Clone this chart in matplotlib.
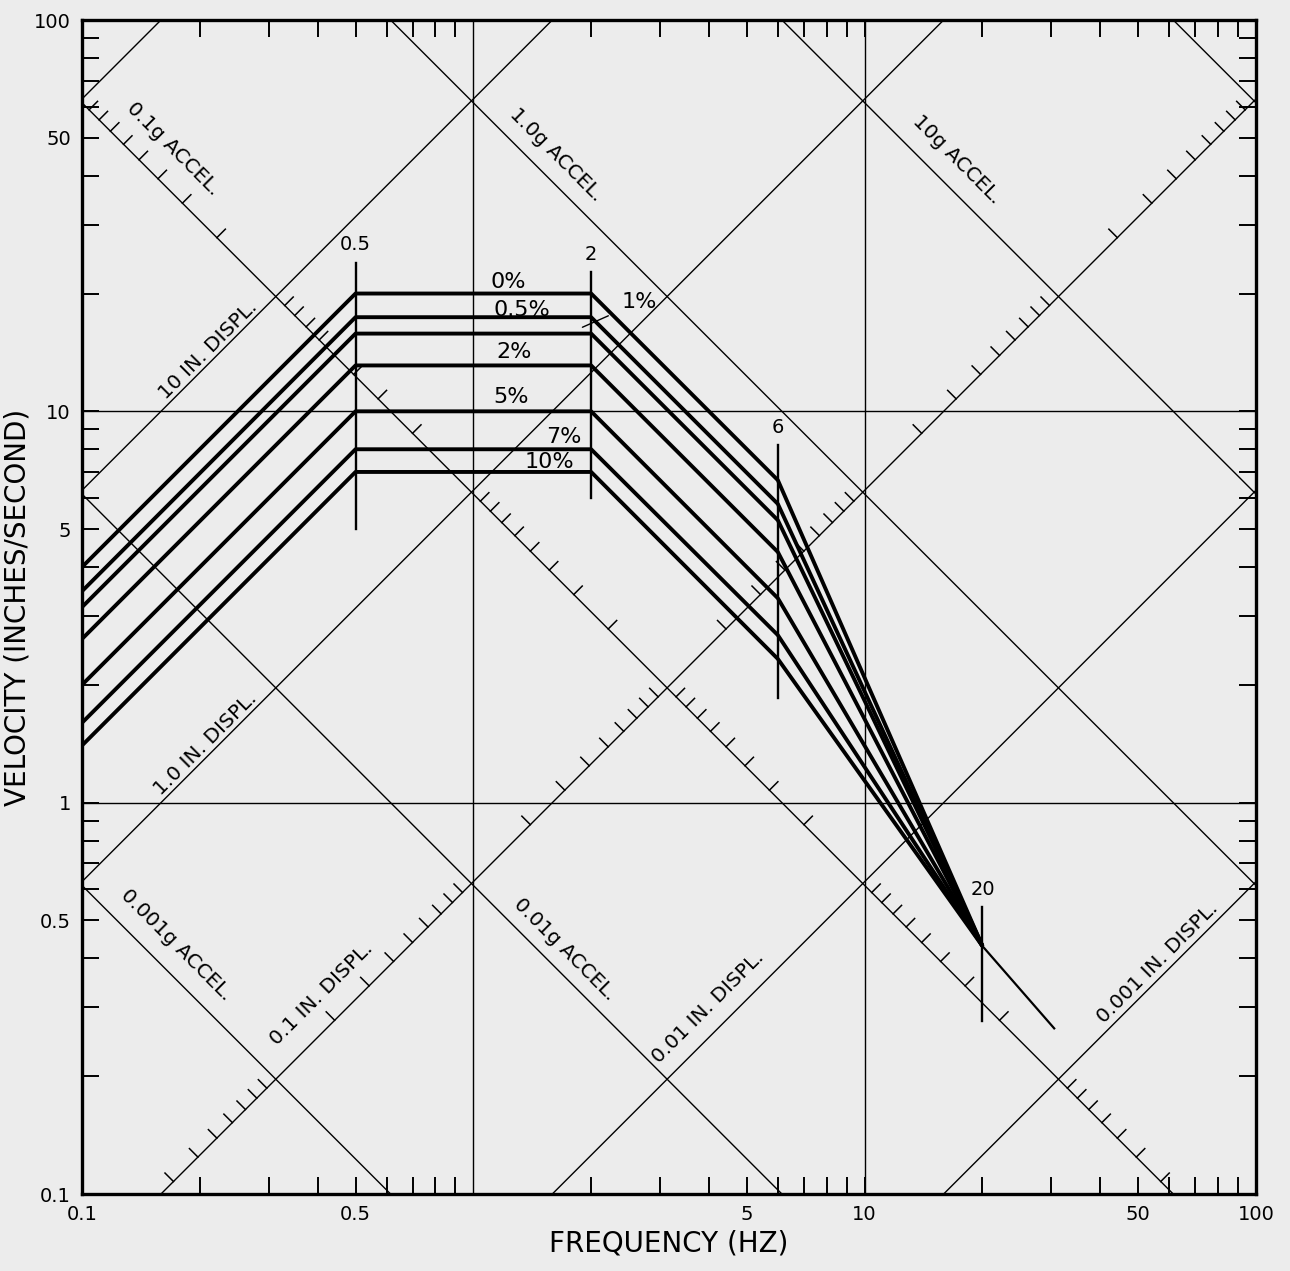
import numpy as np
import matplotlib
matplotlib.use("Agg")
import matplotlib.pyplot as plt
from matplotlib.ticker import FixedLocator, FixedFormatter, NullFormatter

# Tripartite response spectrum (velocity / displacement / acceleration)
G_IN = 386.1  # in/s^2

# spectrum data
damping = ['0%', '0.5%', '1%', '2%', '5%', '7%', '10%']
v_01hz = [4.0, 3.47, 3.16, 2.62, 2.0, 1.6, 1.4]        # at 0.1 Hz
v_plateau = [20.0, 17.4, 15.8, 13.1, 10.0, 8.0, 7.0]   # 0.5 - 2 Hz
v_6hz = [6.67, 5.8, 5.27, 4.37, 3.33, 2.68, 2.33]       # at 6 Hz
v_20hz = 0.43                                         # all meet at 20 Hz
f_corner = [0.1, 0.5, 2.0, 6.0, 20.0]
tail_f = [20.0, 30.5]
tail_v = [0.43, 0.265]

# vertical corner markers
marker_f = [0.5, 2.0, 6.0, 20.0]
marker_lo = [5.0, 6.0, 1.85, 0.277]
marker_hi = [24.0, 22.7, 8.2, 0.54]
marker_txt = ['0.5', '2', '6', '20']

# diagonal grid
accel_g = [0.001, 0.01, 0.1, 1.0, 10.0, 100.0]
displ_in = [0.001, 0.01, 0.1, 1.0, 10.0, 100.0]
tick_accel = 0.1   # line carrying the displacement scale
tick_displ = 0.1   # line carrying the acceleration scale

grid_f = [1, 10]
grid_v = [1, 10]

x_ticks = [0.1, 0.5, 5, 10, 50, 100]
x_labels = ['0.1', '0.5', '5', '10', '50', '100']
y_ticks = [0.1, 0.5, 1, 5, 10, 50, 100]
y_labels = ['0.1', '0.5', '1', '5', '10', '50', '100']

# label placement: (value, text, freq of foot on line, offset px from line)
accel_lab = [(0.1, '0.1g ACCEL.', 0.150, 32), (1.0, '1.0g ACCEL.', 1.49, 22),
             (10.0, '10g ACCEL.', 15.5, 25), (0.001, '0.001g ACCEL.', 0.157, 25),
             (0.01, '0.01g ACCEL.', 1.58, 19)]
displ_lab = [(10.0, '10 IN. DISPL.', 0.219, 10), (1.0, '1.0 IN. DISPL.', 0.216, 10),
             (0.1, '0.1 IN. DISPL.', 0.46, 28), (0.01, '0.01 IN. DISPL.', 4.37, 22),
             (0.001, '0.001 IN. DISPL.', 58.9, 12)]

# damping label centres (freq, velocity)
damp_pos = [(1.23, 21.4), (1.33, 18.2), None, (1.27, 14.2), (1.25, 10.85),
            (1.70, 8.59), (1.56, 7.41)]
one_pct_text = (2.65, 19.0)
one_pct_tip = (1.9, 16.4)

bg = '#ececec'
fig = plt.figure(figsize=(12.9, 12.71), dpi=100, facecolor=bg)
ax = fig.add_axes([82 / 1290, 77 / 1271, 1174 / 1290, 1174 / 1271], facecolor=bg)
ax.set_xscale('log')
ax.set_yscale('log')
ax.set_xlim(0.1, 100)
ax.set_ylim(0.1, 100)

f = np.logspace(-1.2, 2.2, 200)
for a in accel_g:
    ax.plot(f, G_IN * a / (2 * np.pi * f), color='black', lw=1.0)
for d in displ_in:
    ax.plot(f, 2 * np.pi * d * f, color='black', lw=1.0)
for x in grid_f:
    ax.axvline(x, color='black', lw=1.0)
for y in grid_v:
    ax.axhline(y, color='black', lw=1.0)

# scale ticks along the 0.1g and 0.1 in lines
tl = 12 / 392 / np.sqrt(2)  # decades
mult = 10 ** tl
for m in range(-5, 3):
    for k in range(2, 10):
        val = k * 10.0 ** m
        # displacement ticks on the accel line
        c = G_IN * tick_accel / (2 * np.pi)
        ft = np.sqrt(c / (2 * np.pi * val))
        vt = c / ft
        ax.plot([ft, ft * mult], [vt, vt * mult], color='black', lw=1.1)
        # acceleration ticks on the displacement line
        ft = np.sqrt(G_IN * val / (4 * np.pi ** 2 * tick_displ))
        vt = 2 * np.pi * tick_displ * ft
        ax.plot([ft, ft / mult], [vt, vt * mult], color='black', lw=1.1)

# spectrum curves
for i in range(len(damping)):
    vv = [v_01hz[i], v_plateau[i], v_plateau[i], v_6hz[i], v_20hz]
    ax.plot(f_corner, vv, color='black', lw=2.8, solid_capstyle='butt')
ax.plot(tail_f, tail_v, color='black', lw=1.6)

for fm, lo, hi, t in zip(marker_f, marker_lo, marker_hi, marker_txt):
    ax.plot([fm, fm], [lo, hi], color='black', lw=1.7)
    ax.annotate(t, (fm, hi), xytext=(0, 6), textcoords='offset points',
                ha='center', va='bottom', fontsize=14)

for lab, pos in zip(damping, damp_pos):
    if pos is None:
        continue
    ax.text(pos[0], pos[1], lab, fontsize=16, ha='center', va='center')
ax.annotate('1%', xy=one_pct_tip, xytext=one_pct_text, fontsize=16,
            ha='center', va='center',
            arrowprops=dict(arrowstyle='-', lw=1.0, shrinkA=8, shrinkB=0))

# diagonal labels
pt = 0.72 / np.sqrt(2)
for a, t, f0, off in accel_lab:
    v0 = G_IN * a / (2 * np.pi * f0)
    ax.annotate(t, (f0, v0), xytext=(off * pt, off * pt), textcoords='offset points',
                rotation=-45, rotation_mode='anchor', ha='center', va='center',
                fontsize=14.5)
for d, t, f0, off in displ_lab:
    v0 = 2 * np.pi * d * f0
    ax.annotate(t, (f0, v0), xytext=(-off * pt, off * pt), textcoords='offset points',
                rotation=45, rotation_mode='anchor', ha='center', va='center',
                fontsize=14.5)

minor = [k * 10.0 ** m for m in range(-1, 2) for k in range(1, 10)]
ax.xaxis.set_major_locator(FixedLocator(x_ticks))
ax.xaxis.set_major_formatter(FixedFormatter(x_labels))
ax.xaxis.set_minor_locator(FixedLocator([v for v in minor if v not in x_ticks and v not in grid_f]))
ax.xaxis.set_minor_formatter(NullFormatter())
ax.yaxis.set_major_locator(FixedLocator(y_ticks))
ax.yaxis.set_major_formatter(FixedFormatter(y_labels))
ax.yaxis.set_minor_locator(FixedLocator([v for v in minor if v not in y_ticks]))
ax.yaxis.set_minor_formatter(NullFormatter())
ax.tick_params(which='both', direction='in', length=12, width=1.4,
               top=True, right=True, labelsize=14, pad=8)
for s in ax.spines.values():
    s.set_linewidth(2.4)

ax.set_xlabel('FREQUENCY (HZ)', fontsize=20, labelpad=4)
ax.set_ylabel('VELOCITY (INCHES/SECOND)', fontsize=20, labelpad=2)

fig.savefig('out.png', dpi=100, facecolor=bg)
